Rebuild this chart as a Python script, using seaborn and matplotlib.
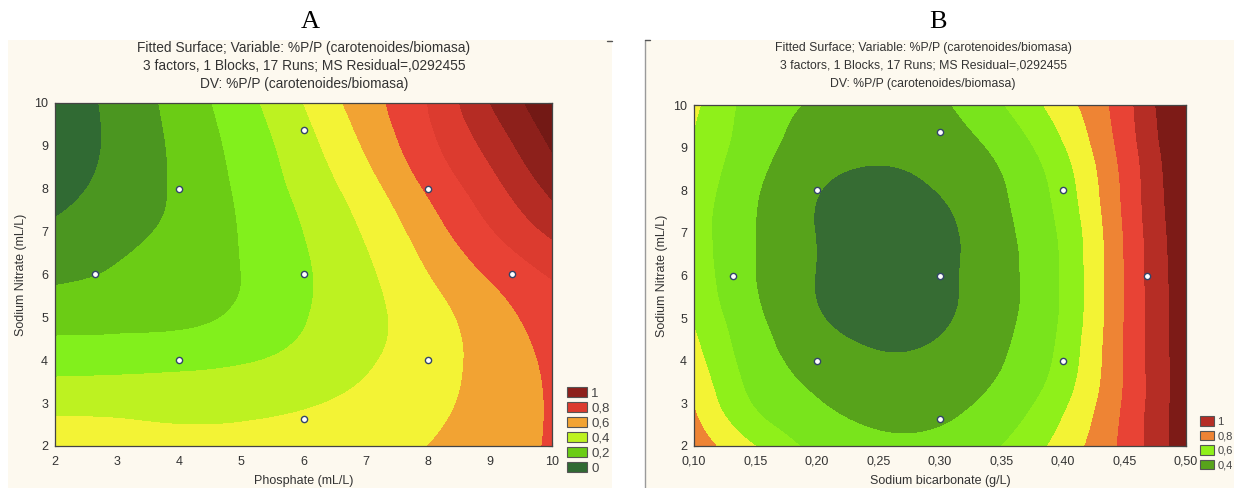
import numpy as np
import matplotlib
matplotlib.use("Agg")
import matplotlib.pyplot as plt
import matplotlib.tri as mtri
from matplotlib.colors import ListedColormap, BoundaryNorm
from matplotlib.patches import Patch, Rectangle
from matplotlib.lines import Line2D
import seaborn as sns

# ---- panel A: phosphate x sodium nitrate (fitted surface)
phosphate = [2, 3, 4, 5, 6, 7, 8, 9, 10]
nitrate = [2, 3, 4, 5, 6, 7, 8, 9, 10]
surf_a = [
    [0.56, 0.54, 0.53, 0.535, 0.55, 0.575, 0.60, 0.65, 0.71],     # nitrate 2
    [0.468, 0.47, 0.465, 0.47, 0.49, 0.525, 0.574, 0.635, 0.71],  # 3
    [0.356, 0.36, 0.37, 0.39, 0.43, 0.487, 0.555, 0.634, 0.72],   # 4
    [0.262, 0.27, 0.28, 0.318, 0.393, 0.471, 0.556, 0.654, 0.75],  # 5
    [0.181, 0.212, 0.256, 0.30, 0.385, 0.48, 0.596, 0.71, 0.81],  # 6
    [0.12, 0.168, 0.226, 0.305, 0.40, 0.51, 0.65, 0.79, 0.92],    # 7
    [0.062, 0.137, 0.216, 0.317, 0.428, 0.556, 0.712, 0.86, 1.025],  # 8
    [0.03, 0.124, 0.222, 0.334, 0.46, 0.611, 0.77, 0.93, 1.11],   # 9
    [0.03, 0.13, 0.237, 0.36, 0.50, 0.655, 0.80, 1.00, 1.17],     # 10
]
runs_a_x = [2.64, 4, 4, 6, 6, 6, 8, 8, 9.36]
runs_a_y = [6, 8, 4, 9.36, 6, 2.64, 8, 4, 6]

# ---- panel B: sodium bicarbonate x sodium nitrate
bicarb = [0.10, 0.15, 0.20, 0.25, 0.30, 0.35, 0.40, 0.45, 0.50]
nitrate_b = [2, 3, 4, 5, 6, 7, 8, 9, 10]
surf_b = [
    [0.86, 0.70, 0.57, 0.525, 0.53, 0.60, 0.74, 0.926, 1.17],     # nitrate 2
    [0.795, 0.59, 0.505, 0.465, 0.47, 0.535, 0.68, 0.912, 1.165],  # 3
    [0.74, 0.55, 0.46, 0.415, 0.43, 0.495, 0.635, 0.905, 1.16],   # 4
    [0.69, 0.52, 0.41, 0.355, 0.38, 0.475, 0.615, 0.902, 1.16],   # 5
    [0.66, 0.50, 0.397, 0.338, 0.368, 0.47, 0.612, 0.902, 1.165],  # 6
    [0.645, 0.50, 0.397, 0.338, 0.368, 0.475, 0.62, 0.907, 1.175],  # 7
    [0.655, 0.51, 0.405, 0.37, 0.405, 0.49, 0.645, 0.92, 1.19],   # 8
    [0.685, 0.54, 0.45, 0.42, 0.445, 0.526, 0.69, 0.94, 1.215],   # 9
    [0.72, 0.557, 0.49, 0.46, 0.485, 0.593, 0.755, 0.96, 1.25],   # 10
]
runs_b_x = [0.132, 0.2, 0.2, 0.3, 0.3, 0.3, 0.4, 0.4, 0.468]
runs_b_y = [6, 8, 4, 9.36, 6, 2.64, 8, 4, 6]

# contour levels and band colours
levels_a = [0.0, 0.1, 0.2, 0.3, 0.4, 0.5, 0.6, 0.7, 0.8, 0.9, 1.0, 1.1]
colors_a = ["#306a33", "#4b9620", "#6bcc15", "#82f01c", "#bdf221", "#f3f335",
            "#f2a333", "#e84235", "#dc3b2f", "#b52c24", "#8d201b"]
over_a = "#731915"
levels_b = [0.3, 0.4, 0.5, 0.6, 0.7, 0.8, 0.9, 1.0, 1.1]
colors_b = ["#366c33", "#57a31b", "#79e41c", "#8ff01a", "#f3f334", "#ee8434",
            "#e84335", "#b52d25"]
over_b = "#7d1b17"

legend_a_labels = ["1", "0,8", "0,6", "0,4", "0,2", "0"]
legend_a_levels = [1.0, 0.8, 0.6, 0.4, 0.2, 0.0]
legend_b_labels = ["1", "0,8", "0,6", "0,4"]
legend_b_levels = [1.0, 0.8, 0.6, 0.4]

title_lines = ["Fitted Surface; Variable: %P/P (carotenoides/biomasa)",
               "3 factors, 1 Blocks, 17 Runs; MS Residual=,0292455",
               "DV: %P/P (carotenoides/biomasa)"]

sns.set_style("ticks")
narrow = ["Liberation Sans Narrow", "Liberation Sans", "DejaVu Sans"]
plt.rcParams["font.family"] = narrow

W, H = 1234, 488
fig = plt.figure(figsize=(W / 100, H / 100), dpi=100)
fig.patch.set_facecolor("white")

# cream panel backgrounds
fig.patches.append(Rectangle((8 / W, 0), 604 / W, 448 / H, transform=fig.transFigure,
                             facecolor="#fdf9ef", edgecolor="none", zorder=-2))
fig.patches.append(Rectangle((645 / W, 0), 589 / W, 448 / H, transform=fig.transFigure,
                             facecolor="#fdf9ef", edgecolor="none", zorder=-2))
fig.add_artist(Line2D([645 / W, 645 / W], [0, 448 / H], color="#9a9a9a", lw=1))
fig.add_artist(Line2D([645 / W, 650 / W], [448 / H, 448 / H], color="#555555", lw=1))
fig.add_artist(Line2D([607 / W, 612 / W], [447 / H, 447 / H], color="#555555", lw=1))


def smooth_surface(xs, ys, zs, xscale):
    gx, gy = np.meshgrid(np.asarray(xs, float) * xscale, np.asarray(ys, float))
    tri = mtri.Triangulation(gx.ravel(), gy.ravel())
    refiner = mtri.UniformTriRefiner(tri)
    fine, zf = refiner.refine_field(np.asarray(zs, float).ravel(), subdiv=4)
    fine = mtri.Triangulation(fine.x / xscale, fine.y, fine.triangles)
    return fine, zf


def draw_panel(rect, xs, ys, zs, xscale, levels, colors, over, rx, ry,
               xlim, xticks, xticklabels, xlabel, fs_title, title_x, title_ys,
               leg_levels, leg_labels, leg_anchor, leg_style, letter, letter_x,
               ylabel_x):
    ax = fig.add_axes(rect)
    cmap = ListedColormap(colors)
    cmap.set_under(colors[0])
    cmap.set_over(over)
    norm = BoundaryNorm(levels, cmap.N)
    fine, zf = smooth_surface(xs, ys, zs, xscale)
    ax.tricontourf(fine, zf, levels=levels, cmap=cmap, norm=norm, extend="both",
                   antialiased=False)
    sns.scatterplot(x=rx, y=ry, ax=ax, color="white", edgecolor="#34456a",
                    s=20, linewidth=1.0, zorder=3, legend=False)
    ax.set_xlim(*xlim)
    ax.set_ylim(2, 10)
    ax.set_xticks(xticks)
    ax.set_xticklabels(xticklabels)
    ax.set_yticks(nitrate)
    ax.tick_params(direction="in", length=3, width=0.8, top=True, right=True,
                   labelsize=9, colors="#555555", labelcolor="#333333")
    ax.tick_params(axis="x", pad=7)
    ax.tick_params(axis="y", pad=5)
    for sp in ax.spines.values():
        sp.set_color("#444444")
        sp.set_linewidth(0.9)
    ax.set_xlabel(xlabel, fontsize=9, color="#333333", labelpad=5)
    ax.set_ylabel("Sodium Nitrate (mL/L)", fontsize=9, color="#333333")
    ax.yaxis.set_label_coords(ylabel_x, 0.5)

    for line, ty in zip(title_lines, title_ys):
        fig.text(title_x / W, 1 - ty / H, line, ha="center", va="center",
                 fontsize=fs_title, color="#333333")
    fig.text(letter_x / W, 1 - 22 / H, letter, ha="center", va="center",
             fontsize=19, family=["Liberation Serif", "DejaVu Serif"], color="black")

    handles = []
    for lv in leg_levels:
        col = cmap(norm(lv + 0.05))
        handles.append(Patch(facecolor=col, edgecolor="#555555", linewidth=0.8))
    ax.legend(handles, leg_labels, loc="upper left", bbox_to_anchor=leg_anchor,
              bbox_transform=fig.transFigure, frameon=False, borderpad=0,
              borderaxespad=0, labelcolor="#444444", **leg_style)
    return ax


style_a = dict(handlelength=1.5, handleheight=0.8, handletextpad=0.35,
               labelspacing=0.18,
               prop={"family": ["Liberation Sans", "DejaVu Sans"], "size": 9.5})
style_b = dict(handlelength=1.3, handleheight=0.95, handletextpad=0.25,
               labelspacing=0.36,
               prop={"family": ["Liberation Sans", "DejaVu Sans"], "size": 8})

draw_panel([55 / W, 1 - 446 / H, 497 / W, 343 / H], phosphate, nitrate, surf_a, 1.0,
           levels_a, colors_a, over_a, runs_a_x, runs_a_y, (2, 10), phosphate,
           [str(v) for v in phosphate], "Phosphate (mL/L)", 9.9, 304, [48, 66, 84],
           legend_a_levels, legend_a_labels, (567 / W, 1 - 387 / H), style_a, "A", 310,
           (27 - 55) / 497)

draw_panel([694 / W, 1 - 446 / H, 492 / W, 341 / H], bicarb, nitrate_b, surf_b, 20.0,
           levels_b, colors_b, over_b, runs_b_x, runs_b_y, (0.10, 0.50), bicarb,
           [f"{v:.2f}".replace(".", ",") for v in bicarb], "Sodium bicarbonate (g/L)",
           8.8, 923, [48, 66, 84], legend_b_levels, legend_b_labels,
           (1200 / W, 1 - 416 / H), style_b, "B", 938, (668 - 694) / 492)

fig.savefig("out.png", dpi=100, facecolor=fig.get_facecolor())
